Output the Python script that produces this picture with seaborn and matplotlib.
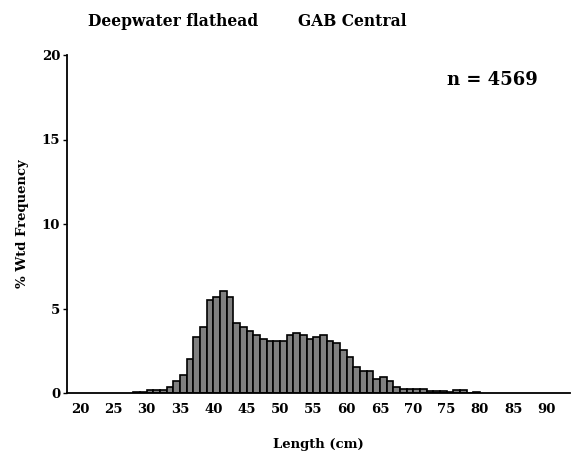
import pandas as pd
import matplotlib
matplotlib.use("Agg")
import matplotlib.pyplot as plt
import seaborn as sns

# -------------------------------
# 1. Data
# -------------------------------
# 1 cm length classes (left edge of each bin)
length_cm = list(range(28, 80))
pct_freq = [
    0.05, 0.05, 0.15, 0.15, 0.15, 0.37, 0.73, 1.07, 2.02, 3.32,   # 28-37
    3.91, 5.48, 5.70, 6.06, 5.70, 4.15, 3.91, 3.69, 3.42, 3.20,   # 38-47
    3.08, 3.08, 3.08, 3.42, 3.56, 3.42, 3.20, 3.32, 3.42, 3.08,   # 48-57
    2.97, 2.52, 2.13, 1.55, 1.30, 1.30, 0.85, 0.97, 0.73, 0.36,   # 58-67
    0.26, 0.26, 0.26, 0.26, 0.14, 0.14, 0.14, 0.03, 0.16, 0.16,   # 68-77
    0.00, 0.05,                                                   # 78-79
]
x_ticks = list(range(20, 95, 5))
y_ticks = [0, 5, 10, 15, 20]
species = "Deepwater flathead"
region = "GAB Central"
n_fish = 4569

df = pd.DataFrame({"length": [v + 0.5 for v in length_cm], "pct": pct_freq})

# -------------------------------
# 2. Plot
# -------------------------------
sns.set_style("ticks")
plt.rcParams["font.family"] = ["DejaVu Serif"]
plt.rcParams["font.weight"] = "bold"
plt.rcParams["text.color"] = "black"
plt.rcParams["axes.labelcolor"] = "black"
plt.rcParams["xtick.color"] = "black"
plt.rcParams["ytick.color"] = "black"

fig = plt.figure(figsize=(5.79, 4.51), dpi=100)
ax = fig.add_axes([67 / 579, 58 / 451, 503 / 579, 338 / 451])

sns.histplot(data=df, x="length", weights="pct", binwidth=1,
             binrange=(28, 80), color="#808080", edgecolor="black",
             linewidth=1.2, alpha=1, ax=ax)

ax.set_xlim(18.05, 93.5)
ax.set_ylim(0, 20)
ax.set_xticks(x_ticks)
ax.set_yticks(y_ticks)
ax.tick_params(axis="x", length=0, pad=7, labelsize=9.5)
ax.tick_params(axis="y", length=3, width=1, pad=2, labelsize=9.5)

sns.despine(ax=ax)
for side in ["left", "bottom"]:
    ax.spines[side].set_linewidth(1.3)
    ax.spines[side].set_color("black")

ax.set_xlabel("Length (cm)", fontsize=9.5, fontweight="bold")
ax.set_ylabel("% Wtd Frequency", fontsize=9.5, fontweight="bold")
ax.xaxis.set_label_coords(0.5, -0.133)
ax.yaxis.set_label_coords(-0.075, 0.5)

ax.text(0.755, 0.926, f"n = {n_fish}", transform=ax.transAxes,
        fontsize=13, fontweight="bold", ha="left", va="center")

# title: species and region, left aligned above the plot
fig.text(88 / 579, 1 - 21 / 451, species, fontsize=11.2, fontweight="bold",
         ha="left", va="center")
fig.text(298 / 579, 1 - 21 / 451, region, fontsize=11.2, fontweight="bold",
         ha="left", va="center")

plt.savefig("out.png", dpi=100)
plt.close()
